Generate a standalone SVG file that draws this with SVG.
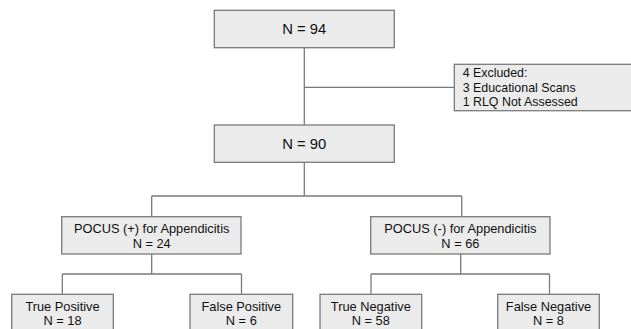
<svg xmlns="http://www.w3.org/2000/svg" width="631" height="329" viewBox="0 0 631 329">
<style>
.box{fill:#ebebeb;stroke:#7a7a7a;stroke-width:1.3}
.ln{fill:none;stroke:#7a7a7a;stroke-width:1.3}
text{font-family:"Liberation Sans",Arial,sans-serif;fill:#111111}
.big{font-size:14.8px;text-anchor:middle}
.mid{font-size:12.8px;text-anchor:middle}
.sm{font-size:12.4px}
</style>
<rect width="631" height="329" fill="#ffffff"/>
<g id="connectors">
<path class="ln" d="M304.3 48 V125"/>
<path class="ln" d="M304.3 87.3 H454.3"/>
<path class="ln" d="M304.3 162.3 V196 M151.7 196 H461.7 M151.7 196 V216.7 M461.7 196 V216.7"/>
<path class="ln" d="M151.7 254 V274 M62.3 274 H241.5 M62.3 274 V294.3 M241.5 274 V294.3"/>
<path class="ln" d="M460.7 254 V274 M371 274 H549.5 M371 274 V294.3 M549.5 274 V294.3"/>
</g>
<g id="n94"><rect class="box" x="214.3" y="10.3" width="180" height="37.4"/><text class="big" x="304.3" y="34.2">N = 94</text></g>
<g id="excluded"><rect class="box" x="454.3" y="64.3" width="180" height="46.4"/>
<text class="sm" x="462.7" y="77.3">4 Excluded:</text>
<text class="sm" x="462.7" y="91.5">3 Educational Scans</text>
<text class="sm" x="462.7" y="105.5">1 RLQ Not Assessed</text></g>
<g id="n90"><rect class="box" x="214.3" y="125" width="180" height="37.3"/><text class="big" x="304.3" y="148.9">N = 90</text></g>
<g id="pocusPos"><rect class="box" x="61.7" y="216.7" width="179.3" height="37.3"/><text class="mid" x="151.7" y="233.3">POCUS (+) for Appendicitis</text><text class="mid" x="151.7" y="247.7">N = 24</text></g>
<g id="pocusNeg"><rect class="box" x="370.7" y="216.7" width="179.3" height="37.3"/><text class="mid" x="460.4" y="233.3">POCUS (-) for Appendicitis</text><text class="mid" x="460.4" y="247.7">N = 66</text></g>
<g id="tp"><rect class="box" x="11.7" y="294.3" width="101.6" height="45"/><text class="mid" x="62.5" y="310.5">True Positive</text><text class="mid" x="62.5" y="325">N = 18</text></g>
<g id="fp"><rect class="box" x="190" y="294.3" width="102.7" height="45"/><text class="mid" x="241.3" y="310.5">False Positive</text><text class="mid" x="241.3" y="325">N = 6</text></g>
<g id="tn"><rect class="box" x="320" y="294.3" width="101.7" height="45"/><text class="mid" x="370.8" y="310.5">True Negative</text><text class="mid" x="370.8" y="325">N = 58</text></g>
<g id="fn"><rect class="box" x="497.7" y="294.3" width="101.6" height="45"/><text class="mid" x="548.5" y="310.5">False Negative</text><text class="mid" x="548.5" y="325">N = 8</text></g>
</svg>
